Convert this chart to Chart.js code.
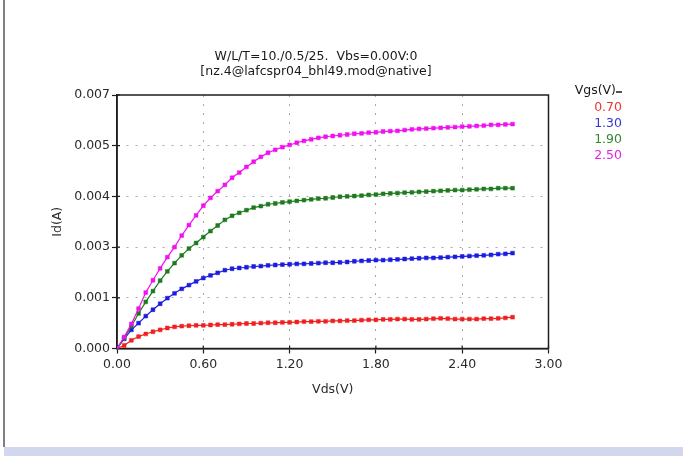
<!DOCTYPE html>
<html>
<head>
<meta charset="utf-8">
<title>Id-Vds</title>
<script src="https://cdn.jsdelivr.net/npm/chart.js@4.4.1/dist/chart.umd.min.js"></script>
<style>
body{margin:0;background:#fff;}
#wrap{position:relative;width:683px;height:456px;overflow:hidden;background:#fff;}
#chart{position:absolute;left:0;top:0;}
#edge{position:absolute;left:3px;top:0;width:2px;height:447px;background:#808080;}
#band{position:absolute;left:4px;right:0;top:447px;height:9px;background:#d3d7ee;}
</style>
</head>
<body>
<div id="wrap">
<canvas id="chart" width="683" height="447"></canvas>
<div id="edge"></div>
<div id="band"></div>
</div>
<script>
const titleLines = ["W/L/T=10./0.5/25.  Vbs=0.00V:0", "[nz.4@lafcspr04_bhl49.mod@native]"];
const legendTitle = "Vgs(V)";
const vgsLabels = ["0.70", "1.30", "1.90", "2.50"];
const seriesColors = ["#f02020", "#1c1ce0", "#1e7a1e", "#f010f0"];
const legendColors = ["#ee3535", "#3535d0", "#348534", "#e025e0"];

const xTicks = [0, 0.6, 1.2, 1.8, 2.4, 3.0];
const xTickLabels = ["0.00", "0.60", "1.20", "1.80", "2.40", "3.00"];
const yTicks = [0, 0.00136, 0.00272, 0.00408, 0.00544, 0.0068];
const yTickLabels = ["0.000", "0.001", "0.003", "0.004", "0.005", "0.007"];

// Vds sweep (V)
const vds = [0.00,0.05,0.10,0.15,0.20,0.25,0.30,0.35,0.40,0.45,
             0.50,0.55,0.60,0.65,0.70,0.75,0.80,0.85,0.90,0.95,
             1.00,1.05,1.10,1.15,1.20,1.25,1.30,1.35,1.40,1.45,
             1.50,1.55,1.60,1.65,1.70,1.75,1.80,1.85,1.90,1.95,
             2.00,2.05,2.10,2.15,2.20,2.25,2.30,2.35,2.40,2.45,
             2.50,2.55,2.60,2.65,2.70,2.75];

// Id (A) for each Vgs
const id070 = [0,0.00008,0.00022,0.00032,0.00039,0.00045,0.0005,0.00055,0.00058,0.0006,
               0.00061,0.00062,0.00062,0.00063,0.00064,0.00064,0.00065,0.00066,0.00067,0.00067,
               0.00068,0.00069,0.00069,0.0007,0.0007,0.00071,0.00072,0.00072,0.00073,0.00073,
               0.00074,0.00074,0.00075,0.00075,0.00076,0.00077,0.00077,0.00078,0.00078,0.00079,
               0.00079,0.00078,0.00078,0.00079,0.0008,0.00081,0.0008,0.00079,0.00079,0.00079,
               0.00079,0.0008,0.0008,0.00081,0.00082,0.00084];
const id130 = [0,0.00026,0.0005,0.00068,0.00087,0.00104,0.0012,0.00135,0.00148,0.0016,
               0.0017,0.0018,0.00189,0.00196,0.00203,0.0021,0.00214,0.00216,0.00218,0.0022,
               0.00221,0.00223,0.00224,0.00225,0.00226,0.00227,0.00227,0.00228,0.00229,0.0023,
               0.0023,0.00231,0.00232,0.00234,0.00235,0.00236,0.00237,0.00237,0.00238,0.00239,
               0.0024,0.00241,0.00242,0.00243,0.00243,0.00244,0.00245,0.00246,0.00247,0.00248,
               0.00249,0.0025,0.00251,0.00253,0.00254,0.00256];
const id190 = [0,0.00028,0.0006,0.00094,0.00125,0.00154,0.00182,0.00207,0.00229,0.0025,
               0.00268,0.00283,0.00299,0.00315,0.0033,0.00345,0.00356,0.00364,0.00371,0.00378,
               0.00382,0.00387,0.00389,0.00392,0.00394,0.00396,0.00398,0.004,0.00402,0.00403,
               0.00405,0.00407,0.00408,0.00409,0.0041,0.00412,0.00413,0.00415,0.00416,0.00417,
               0.00418,0.00419,0.0042,0.00421,0.00422,0.00423,0.00424,0.00425,0.00425,0.00426,
               0.00427,0.00428,0.00428,0.0043,0.0043,0.0043];
const id250 = [0,0.00031,0.00066,0.00107,0.0015,0.00183,0.00215,0.00245,0.00272,0.00303,
               0.00331,0.00357,0.00383,0.00404,0.00422,0.00439,0.00458,0.00472,0.00487,0.00501,
               0.00514,0.00525,0.00533,0.0054,0.00546,0.00552,0.00557,0.00561,0.00565,0.00568,
               0.0057,0.00572,0.00574,0.00576,0.00577,0.00579,0.0058,0.00582,0.00583,0.00584,
               0.00586,0.00588,0.00589,0.0059,0.00591,0.00592,0.00593,0.00594,0.00595,0.00596,
               0.00597,0.00598,0.006,0.006,0.00601,0.00602];

const idSeries = [id070, id130, id190, id250];

Chart.defaults.font.family = "'DejaVu Sans', 'Liberation Sans', sans-serif";
Chart.defaults.font.size = 12.5;
Chart.defaults.color = "#2a2a2a";

function makeDataset(values, i){
    return {
        label: vgsLabels[i],
        data: vds.map((v, k) => ({x: v, y: values[k]})),
        borderColor: seriesColors[i],
        backgroundColor: seriesColors[i],
        borderWidth: 1.2,
        pointStyle: "rect",
        pointRadius: 2.7,
        pointBorderWidth: 0.5,
        order: idSeries.length - 1 - i
    };
}

/* frame, inner tick marks, title and Vgs legend */
const decor = {
    id: "decor",
    beforeDatasetsDraw(chart){
        const {ctx, chartArea: a, scales} = chart;
        ctx.save();
        ctx.strokeStyle = "#1e1e1e";
        ctx.lineWidth = 1.5;
        ctx.strokeRect(a.left, a.top, a.right - a.left, a.bottom - a.top);
        ctx.lineWidth = 1.2;
        ctx.beginPath();
        xTicks.forEach(v => {
            const x = scales.x.getPixelForValue(v);
            ctx.moveTo(x, a.bottom);
            ctx.lineTo(x, a.bottom - 3);
        });
        yTicks.forEach(v => {
            const y = scales.y.getPixelForValue(v);
            ctx.moveTo(a.left, y);
            ctx.lineTo(a.left + 3, y);
        });
        ctx.stroke();
        ctx.restore();
    },
    afterDraw(chart){
        const ctx = chart.ctx;
        ctx.save();
        ctx.font = "12.5px 'DejaVu Sans'";
        ctx.textBaseline = "middle";
        ctx.fillStyle = "#1a1a1a";
        ctx.textAlign = "center";
        ctx.fillText(titleLines[0], 316, 57);
        ctx.fillText(titleLines[1], 316, 72);

        ctx.textAlign = "right";
        ctx.fillText(legendTitle, 616, 91);
        ctx.strokeStyle = "#1a1a1a";
        ctx.lineWidth = 1.5;
        ctx.beginPath();
        ctx.moveTo(616, 92);
        ctx.lineTo(622, 92);
        ctx.stroke();
        vgsLabels.forEach((t, i) => {
            ctx.fillStyle = legendColors[i];
            ctx.fillText(t, 622, 108 + i * 16);
        });
        ctx.restore();
    }
};

const edgeColor = c => (c.index === 0 || c.index === c.scale.ticks.length - 1) ? "rgba(0,0,0,0)" : "#a8a8a8";

new Chart(document.getElementById("chart"), {
    type: "scatter",
    data: { datasets: idSeries.map(makeDataset) },
    options: {
        responsive: false,
        animation: false,
        showLine: true,
        layout: { padding: { left: 0, right: 134.5, top: 95, bottom: 0 } },
        plugins: {
            legend: { display: false },
            title: { display: false },
            tooltip: { enabled: false }
        },
        scales: {
            x: {
                type: "linear",
                min: 0,
                max: 3,
                afterBuildTicks: s => { s.ticks = xTicks.map(v => ({value: v})); },
                afterFit: s => { s.height = 98.5; },
                ticks: {
                    padding: 4,
                    maxRotation: 0,
                    callback: (v, i) => xTickLabels[i]
                },
                grid: { color: edgeColor, tickColor: "#1e1e1e", tickLength: 5, tickWidth: 1.2 },
                border: { color: "#1e1e1e", width: 1.5, dash: [2, 7] },
                title: { display: true, text: "Vds(V)", padding: { top: 0, bottom: 50 } }
            },
            y: {
                type: "linear",
                min: 0,
                max: 0.0068,
                afterBuildTicks: s => { s.ticks = yTicks.map(v => ({value: v})); },
                afterFit: s => { s.width = 117; },
                ticks: {
                    padding: 2,
                    callback: (v, i) => yTickLabels[i]
                },
                grid: { color: edgeColor, tickColor: "#1e1e1e", tickLength: 5, tickWidth: 1.2 },
                border: { color: "#1e1e1e", width: 1.5, dash: [2, 7] },
                title: { display: true, text: "Id(A)", padding: { top: 50, bottom: 0 } }
            }
        }
    },
    plugins: [decor]
});
</script>
</body>
</html>
